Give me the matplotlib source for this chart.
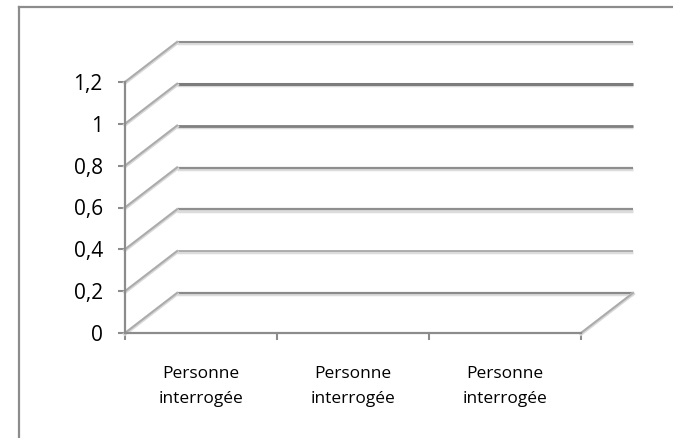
import matplotlib
matplotlib.use("Agg")
import matplotlib.pyplot as plt
from matplotlib.lines import Line2D

# data (the chart holds no visible values)
categories = ["Personne\ninterrogée", "Personne\ninterrogée", "Personne\ninterrogée"]
values = [0, 0, 0]
yticks = [0, 0.2, 0.4, 0.6, 0.8, 1.0, 1.2]
ytick_labels = ["0", "0,2", "0,4", "0,6", "0,8", "1", "1,2"]

W, H = 673, 438
fig = plt.figure(figsize=(W / 100, H / 100), dpi=100)
plt.rcParams['font.family'] = ['Open Sans', 'DejaVu Sans']

# front plane of the 3d box, in pixels
left, right, bottom, top = 125, 581, 333, 82
ax = fig.add_axes([left / W, (H - bottom) / H, (right - left) / W, (bottom - top) / H])
ax.set_xlim(0, len(categories))
ax.set_ylim(0, 1.2)
ax.patch.set_alpha(0)

# depth offset of the back wall (pixels -> data units)
dx = 52 * len(categories) / (right - left)
dy = 40 * 1.2 / (bottom - top)

grid_col = ['#8a8a8a', '#a3a3a3', '#8e8e8e', '#8e8e8e', '#808080', '#7c7c7c', '#8e8e8e']
grid_lw = [1.6, 1.2, 1.6, 1.6, 2.0, 2.2, 1.5]
for y, c, lw in zip(yticks, grid_col, grid_lw):
    # back wall gridline with a soft shadow
    ax.plot([dx, len(categories) + dx], [y + dy - 0.006, y + dy - 0.006], color='#dcdcdc',
            lw=2.5, clip_on=False, solid_capstyle='butt')
    ax.plot([dx, len(categories) + dx], [y + dy, y + dy], color=c, lw=lw, clip_on=False,
            solid_capstyle='butt')
    # side wall diagonal
    ax.plot([0, dx], [y - 0.004, y + dy - 0.004], color='#d8d8d8', lw=2.6, clip_on=False)
    ax.plot([0, dx], [y, y + dy], color='#ababab', lw=1.4, clip_on=False)

# floor right edge
ax.plot([len(categories), len(categories) + dx], [-0.004, dy - 0.004], color='#d8d8d8', lw=2.6, clip_on=False)
ax.plot([len(categories), len(categories) + dx], [0, dy], color='#ababab', lw=1.4, clip_on=False)

# bars (all empty)
ax.bar([i + 0.5 for i in range(len(categories))], values, width=0.6, color='#4f81bd')

for s in ['top', 'right']:
    ax.spines[s].set_visible(False)
for s in ['left', 'bottom']:
    ax.spines[s].set_color('#8c8c8c')
    ax.spines[s].set_linewidth(1.6)

ax.set_yticks(yticks)
ax.set_yticklabels(ytick_labels, fontsize=15)
ax.tick_params(axis='y', length=5, width=1.5, color='#8c8c8c', pad=11)

ax.set_xticks(range(len(categories) + 1))
ax.set_xticklabels([])
ax.set_xticks([i + 0.5 for i in range(len(categories))], minor=True)
ax.set_xticklabels(categories, minor=True, fontsize=12.5, linespacing=1.7)
ax.tick_params(axis='x', which='major', length=5, width=1.5, color='#8c8c8c')
ax.tick_params(axis='x', which='minor', length=0, pad=24)

# outer chart border (only left and top are in the crop)
fig.add_artist(Line2D([19 / W, 19 / W], [0, (H - 7) / H], color='#8c8c8c', lw=1.6))
fig.add_artist(Line2D([19 / W, 1], [(H - 7) / H, (H - 7) / H], color='#8c8c8c', lw=1.6))

fig.savefig('out.png', dpi=100)
